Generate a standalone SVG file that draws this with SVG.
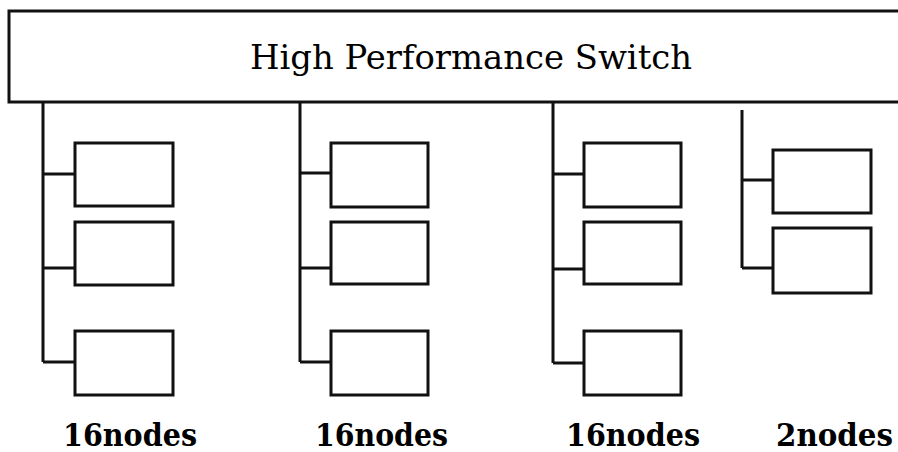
<svg xmlns="http://www.w3.org/2000/svg" width="898" height="452" viewBox="0 0 898 452">
<style>
.box{fill:#fff;stroke:#111;stroke-width:3}
.ln{fill:none;stroke:#111;stroke-width:3}
.title{font-family:"DejaVu Serif","Liberation Serif",serif;font-size:33px;fill:#000}
.lbl{font-family:"DejaVu Serif","Liberation Serif",serif;font-weight:bold;font-size:31px;fill:#000}
</style>
<rect width="898" height="452" fill="#fff"/>
<g id="switch">
<rect class="box" x="9" y="11" width="900" height="91"/>
<text class="title" x="250" y="69" textLength="442" lengthAdjust="spacingAndGlyphs">High Performance Switch</text>
</g>
<g id="connectors">
<path class="ln" d="M43 102 V362 M43 174 H75 M43 268 H75 M43 362 H75"/>
<path class="ln" d="M300 102 V362 M300 173 H331 M300 268 H331 M300 362 H331"/>
<path class="ln" d="M553 102 V363 M553 174 H584 M553 269 H584 M553 363 H584"/>
<path class="ln" d="M742 110 V268 M742 180 H773 M742 268 H773"/>
</g>
<g id="group1">
<rect class="box" x="75" y="143" width="98" height="63"/>
<rect class="box" x="75" y="222" width="98" height="63"/>
<rect class="box" x="75" y="331" width="98" height="64"/>
<text class="lbl" x="63" y="446" textLength="134" lengthAdjust="spacingAndGlyphs">16nodes</text>
</g>
<g id="group2">
<rect class="box" x="331" y="143" width="97" height="64"/>
<rect class="box" x="331" y="222" width="97" height="62"/>
<rect class="box" x="331" y="331" width="97" height="64"/>
<text class="lbl" x="315" y="446" textLength="133" lengthAdjust="spacingAndGlyphs">16nodes</text>
</g>
<g id="group3">
<rect class="box" x="584" y="143" width="97" height="64"/>
<rect class="box" x="584" y="222" width="97" height="62"/>
<rect class="box" x="584" y="331" width="97" height="64"/>
<text class="lbl" x="566" y="446" textLength="134" lengthAdjust="spacingAndGlyphs">16nodes</text>
</g>
<g id="group4">
<rect class="box" x="773" y="150" width="98" height="63"/>
<rect class="box" x="773" y="228" width="98" height="65"/>
<text class="lbl" x="776" y="446" textLength="117" lengthAdjust="spacingAndGlyphs">2nodes</text>
</g>
</svg>
